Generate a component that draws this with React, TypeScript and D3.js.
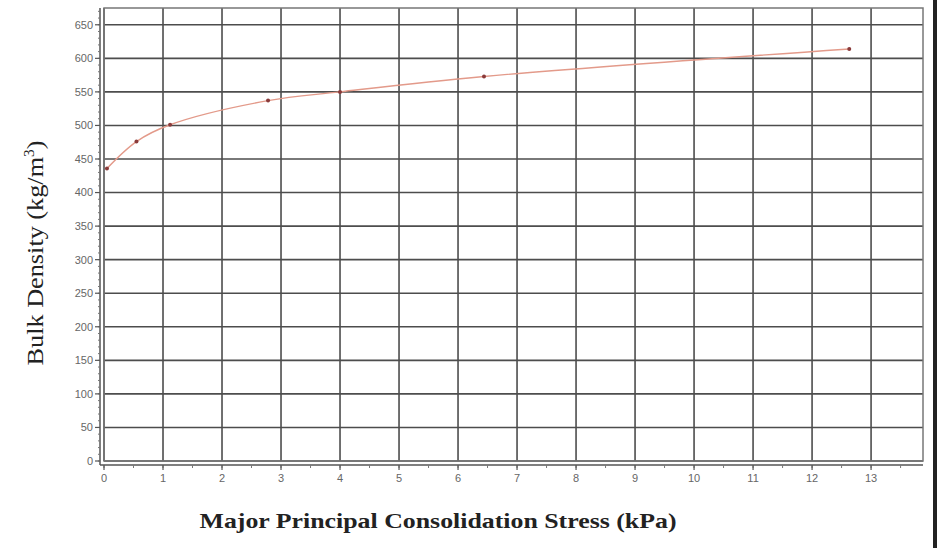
import React from "react";
import * as d3 from "d3";

const stressKPa = [0.05, 0.55, 1.12, 2.78, 4.0, 6.44, 12.63];
const bulkDensity = [436, 476, 501, 537, 550, 573, 614];
const xTickValues = [0, 1, 2, 3, 4, 5, 6, 7, 8, 9, 10, 11, 12, 13];
const yTickValues = [0, 50, 100, 150, 200, 250, 300, 350, 400, 450, 500, 550, 600, 650];

const W = 944;
const H = 548;
const L = 104, R = 923, T = 8, B = 461;

export default function App() {
  const x = d3.scaleLinear().domain([0, 13.88]).range([L, R]);
  const y = d3.scaleLinear().domain([0, 675]).range([B, T]);
  const pts = stressKPa.map((s, i) => [s, bulkDensity[i]] as [number, number]);
  const line = d3
    .line<[number, number]>()
    .x((d) => x(d[0]))
    .y((d) => y(d[1]))
    .curve(d3.curveCatmullRom.alpha(0.5));
  const xMinor = d3.range(0, 13.9, 0.5);
  const yMinor = d3.range(0, 675, 10);
  const axX = L - 4;
  const axY = B + 4;
  const grid = "#4d4d4d";
  return (
    <svg
      width={W}
      height={H}
      style={{ position: "absolute", left: 0, top: 0, background: "#fff" }}
    >
      {/* grid */}
      {xTickValues.map((v) => (
        <line key={"gx" + v} x1={x(v)} x2={x(v)} y1={T} y2={B} stroke={grid} strokeWidth={1.6} />
      ))}
      {yTickValues.map((v) => (
        <line key={"gy" + v} x1={L} x2={R} y1={y(v)} y2={y(v)} stroke={grid} strokeWidth={1.6} />
      ))}
      <rect x={L} y={T} width={R - L} height={B - T} fill="none" stroke="#777" strokeWidth={1.5} />
      {/* axes */}
      <line x1={axX} x2={axX} y1={T} y2={axY} stroke="#555" strokeWidth={1.5} />
      <line x1={axX} x2={R} y1={axY} y2={axY} stroke="#555" strokeWidth={1.5} />
      {yMinor.map((v) => (
        <line key={"ym" + v} x1={axX - 2} x2={axX} y1={y(v)} y2={y(v)} stroke="#777" strokeWidth={1} />
      ))}
      {yTickValues.map((v) => (
        <g key={"yt" + v}>
          <line x1={axX - 5} x2={axX} y1={y(v)} y2={y(v)} stroke="#555" strokeWidth={1.2} />
          <text
            x={axX - 7}
            y={y(v)}
            dy="0.35em"
            textAnchor="end"
            fontFamily="Liberation Sans, Arial, sans-serif"
            fontSize={11}
            fill="#666"
          >
            {v}
          </text>
        </g>
      ))}
      {xMinor.map((v) => (
        <line key={"xm" + v} x1={x(v)} x2={x(v)} y1={axY} y2={axY + 3} stroke="#777" strokeWidth={1} />
      ))}
      {xTickValues.map((v) => (
        <g key={"xt" + v}>
          <line x1={x(v)} x2={x(v)} y1={axY} y2={axY + 5} stroke="#555" strokeWidth={1.2} />
          <text
            x={x(v)}
            y={axY + 17}
            textAnchor="middle"
            fontFamily="Liberation Sans, Arial, sans-serif"
            fontSize={11}
            fill="#666"
          >
            {v}
          </text>
        </g>
      ))}
      {/* curve */}
      <path d={line(pts) || ""} fill="none" stroke="#e39a8a" strokeWidth={1.4} />
      {pts.map((p, i) => (
        <circle key={"p" + i} cx={x(p[0])} cy={y(p[1])} r={2} fill="#8a3a3a" />
      ))}
      {/* titles */}
      <text
        transform={`translate(43, 253) rotate(-90)`}
        textAnchor="middle"
        fontFamily="Liberation Serif, Times New Roman, serif"
        fontSize={24}
        fill="#222"
        textLength={225}
        lengthAdjust="spacingAndGlyphs"
      >
        Bulk Density (kg/m
        <tspan dy={-9} fontSize={14}>3</tspan>
        <tspan dy={9}>)</tspan>
      </text>
      <text
        x={438}
        y={528}
        textAnchor="middle"
        fontFamily="Liberation Serif, Times New Roman, serif"
        fontWeight="bold"
        fontSize={22}
        fill="#222"
        textLength={477}
        lengthAdjust="spacingAndGlyphs"
      >
        Major Principal Consolidation Stress (kPa)
      </text>
      {/* right bar */}
      <rect x={933} y={0} width={4} height={H} fill="#222" />
    </svg>
  );
}
